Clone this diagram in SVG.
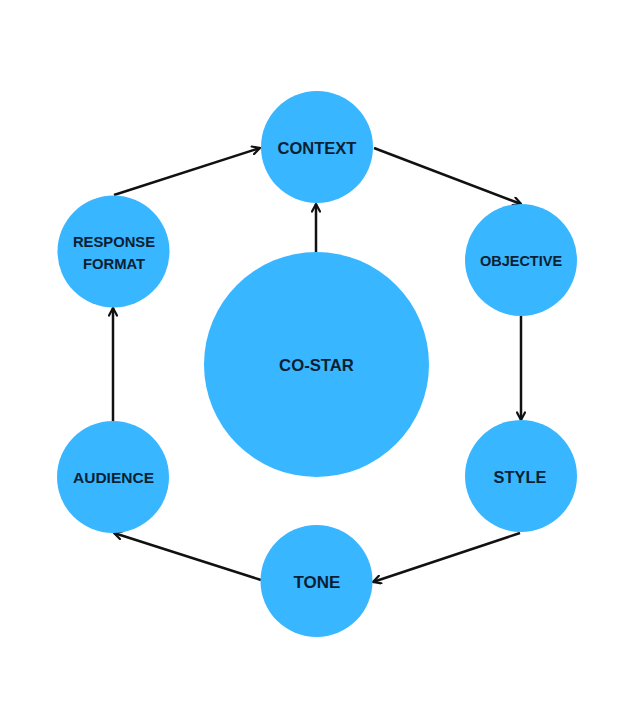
<svg xmlns="http://www.w3.org/2000/svg" width="639" height="720" viewBox="0 0 639 720">
<style>
.node{fill:#38b6ff}
.lbl{font-family:"Liberation Sans",Arial,sans-serif;font-weight:bold;fill:#0b1f33;text-anchor:middle}
.edge{stroke:#111;stroke-width:2.5;fill:none;marker-end:url(#ah)}
</style>
<defs>
<marker id="ah" viewBox="0 0 10 10" refX="9" refY="5" markerWidth="10" markerHeight="10" markerUnits="userSpaceOnUse" orient="auto">
<path d="M1.5,1 L9,5 L1.5,9" fill="none" stroke="#111" stroke-width="2.2" stroke-linecap="round" stroke-linejoin="miter"/>
</marker>
</defs>
<rect width="639" height="720" fill="#fff"/>
<g id="connectors">
<line class="edge" x1="316" y1="252" x2="316" y2="204"/>
<line class="edge" x1="374" y1="148" x2="521" y2="204"/>
<line class="edge" x1="521" y1="316" x2="521" y2="420"/>
<line class="edge" x1="520" y1="533" x2="373" y2="582"/>
<line class="edge" x1="261" y1="580" x2="114" y2="533"/>
<line class="edge" x1="113" y1="421" x2="113" y2="308"/>
<line class="edge" x1="114" y1="195" x2="260" y2="148"/>
</g>
<g id="costar"><circle class="node" cx="316.5" cy="364.5" r="112.5"/><text class="lbl" x="316.5" y="371" font-size="16.7">CO-STAR</text></g>
<g id="context"><circle class="node" cx="317" cy="147" r="56"/><text class="lbl" x="317" y="154" font-size="16.5">CONTEXT</text></g>
<g id="objective"><circle class="node" cx="521" cy="260" r="56"/><text class="lbl" x="521" y="266" font-size="14.5">OBJECTIVE</text></g>
<g id="style"><circle class="node" cx="521" cy="476" r="56"/><text class="lbl" x="520" y="483" font-size="16.4">STYLE</text></g>
<g id="tone"><circle class="node" cx="316.5" cy="581" r="56"/><text class="lbl" x="317" y="588" font-size="17">TONE</text></g>
<g id="audience"><circle class="node" cx="113" cy="477" r="56"/><text class="lbl" x="113.5" y="483" font-size="15.5">AUDIENCE</text></g>
<g id="response-format"><circle class="node" cx="113.5" cy="251.5" r="56"/><text class="lbl" x="114" y="247" font-size="14.8">RESPONSE</text><text class="lbl" x="114" y="269" font-size="14.8">FORMAT</text></g>
</svg>
